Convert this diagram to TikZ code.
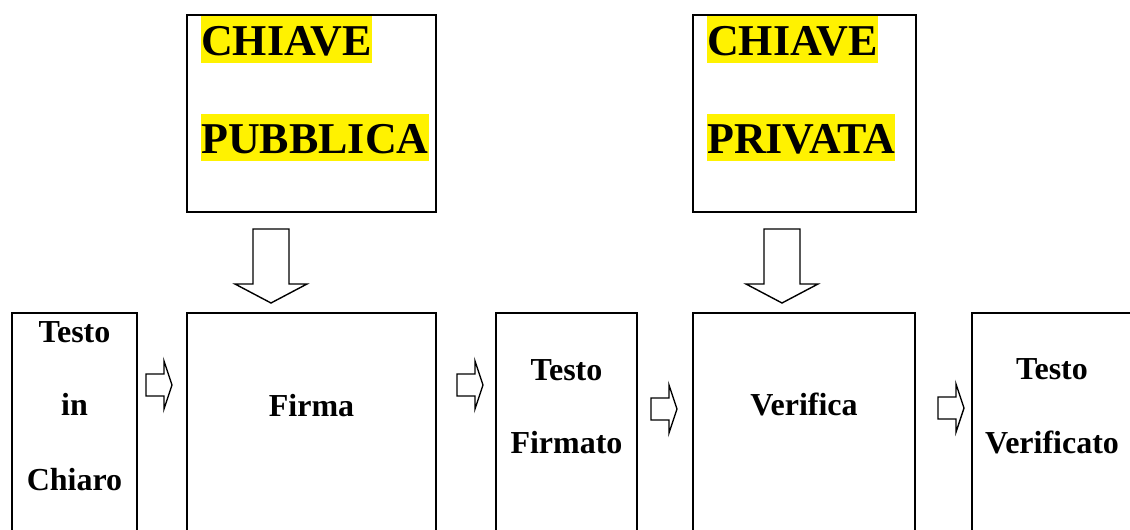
\documentclass[tikz,border=0pt]{standalone}
\usepackage{fontspec}
\setmainfont{Liberation Serif}
\begin{document}
\begin{tikzpicture}[
  x=1pt, y=-1pt,
  box/.style={draw=black, line width=2.2pt, inner sep=0pt},
  blk/.style={draw=black, line width=1.4pt, fill=white, line join=miter},
  key/.style={fill=yellow, inner sep=0pt, text height=39pt, text depth=8pt,
              anchor=base west, font=\bfseries\fontsize{44}{44}\selectfont},
  lab/.style={anchor=base, inner sep=0pt,
              font=\bfseries\fontsize{32}{32}\selectfont}]

\useasboundingbox (0,0) rectangle (1130,530);
\clip (0,0) rectangle (1130,530);

% ========================= top: the two keys ============================
\node[box, minimum width=249pt, minimum height=197pt] (pub) at (311.5,113.5) {};
\node[box, minimum width=223pt, minimum height=197pt] (priv) at (804.5,113.5) {};
\node[key] (pubA)  at (201,55)  {CHIAVE};
\node[key] (pubB)  at (201,153) {PUBBLICA};
\node[key] (privA) at (707,55)  {CHIAVE};
\node[key] (privB) at (707,153) {PRIVATA};

% down arrows, tip at (\tx,303)
\foreach \tx in {271,782}{
  \draw[blk] (\tx-18,229) -- (\tx+18,229) -- (\tx+18,284) -- (\tx+36,284)
    -- (\tx,303) -- (\tx-36,284) -- (\tx-18,284) -- cycle;}

% ========================= bottom: the chain ============================
\node[box, minimum width=125pt, minimum height=230pt, anchor=north] (chiaro)
  at (74.5,312) {};
\node[box, minimum width=249pt, minimum height=230pt, anchor=north] (firma)
  at (311.5,312) {};
\node[box, minimum width=141pt, minimum height=230pt, anchor=north] (firmato)
  at (566.5,312) {};
\node[box, minimum width=222pt, minimum height=230pt, anchor=north] (verifica)
  at (804,312) {};
\node[box, minimum width=161pt, minimum height=230pt, anchor=north] (verificato)
  at (1052.5,312) {};

\node[lab] (tA) at (74.5,342) {Testo};
\node[lab] (tB) at (74.5,415) {in};
\node[lab] (tC) at (74.5,490) {Chiaro};
\node[lab] (tF) at (311.5,416) {Firma};
\node[lab] (tG) at (566.5,380) {Testo};
\node[lab] (tH) at (566.5,453) {Firmato};
\node[lab] (tV) at (804,415) {Verifica};
\node[lab] (tW) at (1052,379) {Testo};
\node[lab] (tX) at (1052,453) {Verificato};

% right arrows, tip at (\tx,\ty)
\foreach \tx/\ty in {172/385, 483/385, 677/409, 964/408}{
  \draw[blk] (\tx-26,\ty-11) -- (\tx-8,\ty-11) -- (\tx-8,\ty-24) -- (\tx,\ty)
    -- (\tx-8,\ty+24) -- (\tx-8,\ty+11) -- (\tx-26,\ty+11) -- cycle;}

\end{tikzpicture}
\end{document}
